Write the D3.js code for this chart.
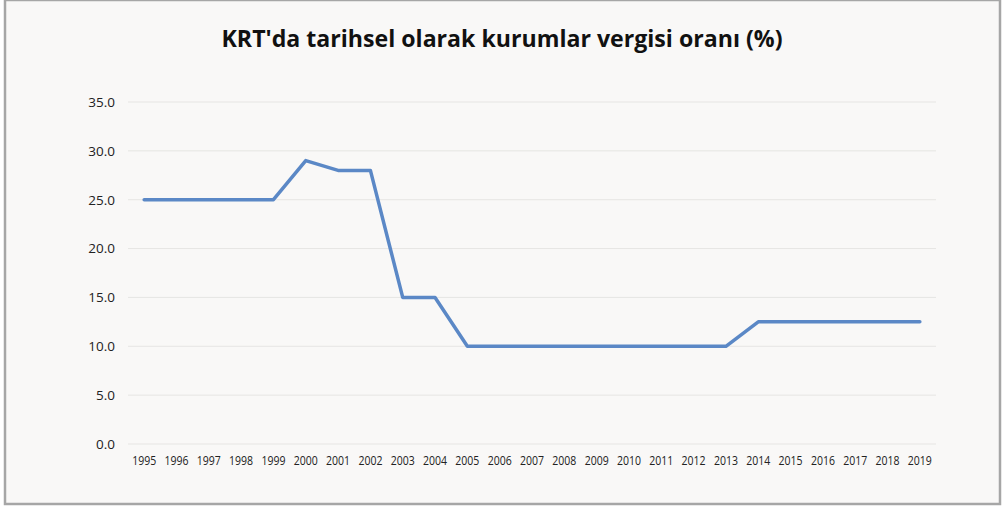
<!DOCTYPE html>
<html>
<head>
<meta charset="utf-8">
<script src="https://cdn.jsdelivr.net/npm/d3@7"></script>
<style>
  body { margin: 0; background: #fff; }
  text { font-family: "Open Sans", "Noto Sans", sans-serif; }
</style>
</head>
<body>
<svg id="chart" width="1002" height="508"></svg>
<script>
const years = ['1995','1996','1997','1998','1999','2000','2001','2002','2003','2004','2005','2006','2007',
  '2008','2009','2010','2011','2012','2013','2014','2015','2016','2017','2018','2019'];
const rates = [25, 25, 25, 25, 25, 29, 28, 28, 15, 15, 10, 10, 10, 10, 10, 10, 10, 10, 10, 12.5, 12.5, 12.5, 12.5, 12.5, 12.5];
const yTicks = [0, 5, 10, 15, 20, 25, 30, 35];
const title = "KRT'da tarihsel olarak kurumlar vergisi oranı (%)";

const svg = d3.select('#chart');
const margin = {left: 128, right: 1002 - 936, top: 102, bottom: 508 - 444};
const width = 1002, height = 508;

svg.append('rect')
    .attr('x', 5).attr('y', 0)
    .attr('width', 995).attr('height', 504)
    .attr('fill', '#f9f8f7')
    .attr('stroke', '#a6a6a6')
    .attr('stroke-width', 2.5);

svg.append('text')
    .attr('x', 502).attr('y', 47)
    .attr('text-anchor', 'middle')
    .attr('font-weight', 'bold')
    .attr('font-size', 23)
    .attr('fill', '#111')
    .attr('textLength', 561)
    .attr('lengthAdjust', 'spacingAndGlyphs')
    .text(title);

const x = d3.scaleBand().domain(years).range([margin.left, width - margin.right]);
const y = d3.scaleLinear().domain([0, 35]).range([height - margin.bottom, margin.top]);

// gridlines
svg.append('g')
    .selectAll('line')
    .data(yTicks)
    .join('line')
    .attr('x1', margin.left).attr('x2', width - margin.right)
    .attr('y1', d => y(d)).attr('y2', d => y(d))
    .attr('stroke', '#e6e5e3')
    .attr('stroke-width', 1);

const yAxis = svg.append('g')
    .attr('transform', `translate(${margin.left},0)`)
    .call(d3.axisLeft(y).tickValues(yTicks).tickFormat(d3.format('.1f')).tickSize(0).tickPadding(13));
yAxis.select('.domain').remove();
yAxis.selectAll('text')
    .attr('font-size', 13.5)
    .attr('fill', '#222')
    .attr('font-family', '"Open Sans", sans-serif');

const xAxis = svg.append('g')
    .attr('transform', `translate(0,${height - margin.bottom})`)
    .call(d3.axisBottom(x).tickSize(0).tickPadding(12));
xAxis.select('.domain').remove();
xAxis.selectAll('text')
    .attr('font-size', 13)
    .attr('fill', '#222')
    .attr('font-family', '"Open Sans", sans-serif')
    .attr('textLength', 24)
    .attr('lengthAdjust', 'spacingAndGlyphs');

const line = d3.line()
    .x((d, i) => x(years[i]) + x.bandwidth() / 2)
    .y(d => y(d));

svg.append('path')
    .datum(rates)
    .attr('d', line)
    .attr('fill', 'none')
    .attr('stroke', '#5b88c6')
    .attr('stroke-width', 3.5)
    .attr('stroke-linejoin', 'round')
    .attr('stroke-linecap', 'round');
</script>
</body>
</html>
